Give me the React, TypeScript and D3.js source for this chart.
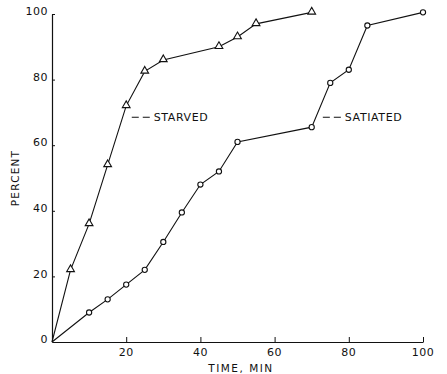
import React, { useRef, useEffect } from "react";
import * as d3 from "d3";

// time (min) and percent values
const starvedTime = [0, 5, 10, 15, 20, 25, 30, 45, 50, 55, 70];
const starvedPct = [0, 22, 36, 54, 72, 82.5, 86, 90, 93, 97, 100.5];
const satiatedTime = [0, 10, 15, 20, 25, 30, 35, 40, 45, 50, 70, 75, 80, 85, 100];
const satiatedPct = [0, 9, 13, 17.5, 22, 30.5, 39.5, 48, 52, 61, 65.5, 79, 83, 96.5, 100.5];
const xTicks = [0, 20, 40, 60, 80, 100];
const yTicks = [0, 20, 40, 60, 80, 100];

const W = 447;
const H = 374;

const App = () => {
  const ref = useRef<SVGSVGElement>(null);

  useEffect(() => {
    if (!ref.current) return;
    const svg = d3.select(ref.current);
    svg.selectAll("*").remove();

    const x = d3.scaleLinear().domain([0, 100]).range([52, 423]);
    const y = d3.scaleLinear().domain([0, 100]).range([342, 14]);
    const font = "DejaVu Sans, sans-serif";

    // axes
    const xAxis = svg.append("g")
      .attr("transform", `translate(0,${y(0)})`)
      .call(d3.axisBottom(x).tickValues(xTicks.slice(1)).tickSizeInner(-5).tickSizeOuter(0).tickFormat(() => ""));
    xAxis.select(".domain").attr("stroke", "#111").attr("stroke-width", 1.2);
    xAxis.selectAll(".tick line").attr("stroke", "#111");

    const yAxis = svg.append("g")
      .attr("transform", `translate(${x(0)},0)`)
      .call(d3.axisLeft(y).tickValues(yTicks.slice(1)).tickSizeInner(-3).tickSizeOuter(0).tickFormat(() => ""));
    yAxis.select(".domain").attr("stroke", "#111").attr("stroke-width", 1.2);
    yAxis.selectAll(".tick line").attr("stroke", "#111");

    svg.append("g").selectAll("text")
      .data(xTicks.slice(1))
      .enter().append("text")
      .attr("x", (d) => x(d))
      .attr("y", y(0) + 14)
      .attr("text-anchor", "middle")
      .style("font-family", font)
      .style("font-size", "11px")
      .style("letter-spacing", "0.5px")
      .attr("fill", "#111")
      .text((d) => d);

    svg.append("g").selectAll("text")
      .data(yTicks)
      .enter().append("text")
      .attr("x", x(0) - 4)
      .attr("y", (d) => y(d))
      .attr("dy", "0.1em")
      .attr("text-anchor", "end")
      .style("font-family", font)
      .style("font-size", "11px")
      .style("letter-spacing", "0.5px")
      .attr("fill", "#111")
      .text((d) => d);

    svg.append("text")
      .attr("x", 241)
      .attr("y", 372)
      .attr("text-anchor", "middle")
      .style("font-family", font)
      .style("font-size", "10.5px")
      .style("letter-spacing", "1.5px")
      .attr("fill", "#111")
      .text("TIME, MIN");

    svg.append("text")
      .attr("transform", `translate(19,${y(50)}) rotate(-90)`)
      .attr("text-anchor", "middle")
      .style("font-family", font)
      .style("font-size", "10.5px")
      .style("letter-spacing", "1.2px")
      .attr("fill", "#111")
      .text("PERCENT");

    const line = d3.line<[number, number]>().x((d) => x(d[0])).y((d) => y(d[1]));
    const starved: [number, number][] = starvedTime.map((t, i) => [t, starvedPct[i]]);
    const satiated: [number, number][] = satiatedTime.map((t, i) => [t, satiatedPct[i]]);

    svg.append("path").datum(starved).attr("d", line).attr("fill", "none").attr("stroke", "#111").attr("stroke-width", 1.1);
    svg.append("path").datum(satiated).attr("d", line).attr("fill", "none").attr("stroke", "#111").attr("stroke-width", 1.1);

    const tri = d3.symbol().type(d3.symbolTriangle).size(26);
    svg.append("g").selectAll("path")
      .data(starved.slice(1))
      .enter().append("path")
      .attr("d", tri)
      .attr("transform", (d) => `translate(${x(d[0])},${y(d[1]) - 0.5})`)
      .attr("fill", "white")
      .attr("stroke", "#111")
      .attr("stroke-width", 1.1);

    svg.append("g").selectAll("circle")
      .data(satiated.slice(1))
      .enter().append("circle")
      .attr("cx", (d) => x(d[0]))
      .attr("cy", (d) => y(d[1]))
      .attr("r", 2.6)
      .attr("fill", "white")
      .attr("stroke", "#111")
      .attr("stroke-width", 1.1);

    // series labels with leader dashes
    const labels = [
      { name: "STARVED", t: 21.5, p: 68.5 },
      { name: "SATIATED", t: 73, p: 68.5 },
    ];
    labels.forEach((l) => {
      const lx = x(l.t);
      const ly = y(l.p);
      svg.append("line")
        .attr("x1", lx).attr("x2", lx + 19)
        .attr("y1", ly).attr("y2", ly)
        .attr("stroke", "#111")
        .attr("stroke-width", 1.1)
        .attr("stroke-dasharray", "7,4");
      svg.append("text")
        .attr("x", lx + 22)
        .attr("y", ly)
        .attr("dy", "0.36em")
        .style("font-family", font)
        .style("font-size", "11px")
        .style("letter-spacing", "0.6px")
        .attr("fill", "#111")
        .text(l.name);
    });
  }, []);

  return (
    <div style={{ position: "absolute", left: 0, top: 0 }}>
      <svg ref={ref} width={W} height={H} style={{ display: "block", background: "white" }}></svg>
    </div>
  );
};

export default App;
